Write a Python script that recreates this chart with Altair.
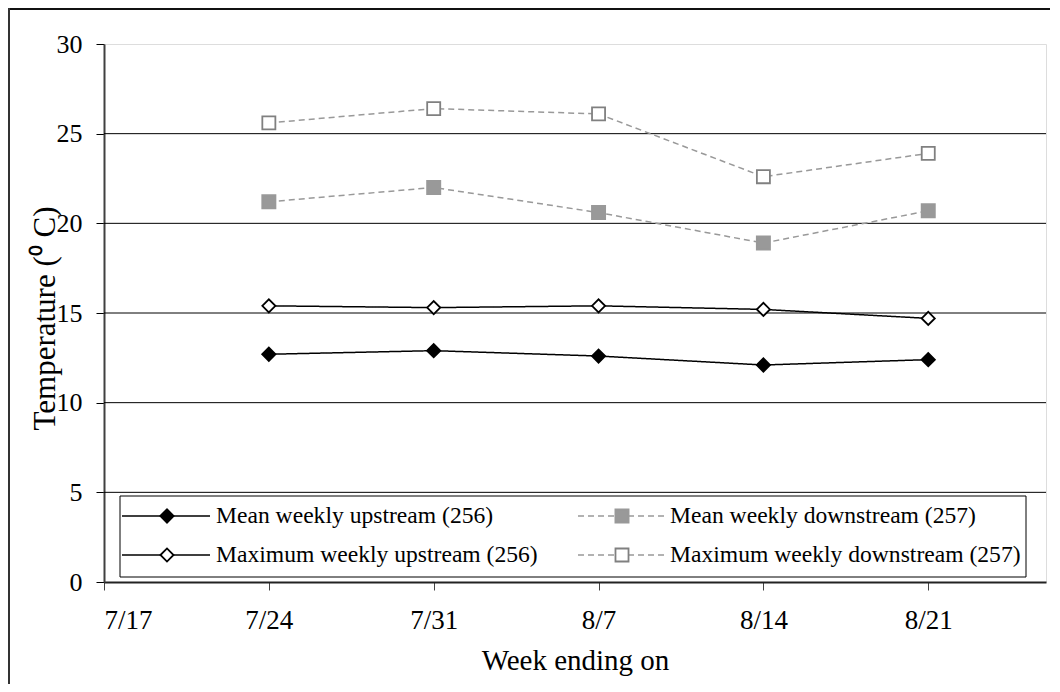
import altair as alt
import pandas as pd

# ---------------- data ----------------
week_labels = ["7/24", "7/31", "8/7", "8/14", "8/21"]
tick_labels = ["7/17", "7/24", "7/31", "8/7", "8/14", "8/21"]
domain_end = "8/26"
year = 2004

series_names = [
    "Mean weekly upstream (256)",
    "Mean weekly downstream (257)",
    "Maximum weekly upstream (256)",
    "Maximum weekly downstream (257)",
]
mean_up = [12.7, 12.9, 12.6, 12.1, 12.4]
mean_down = [21.2, 22.0, 20.6, 18.9, 20.7]
max_up = [15.4, 15.3, 15.4, 15.2, 14.7]
max_down = [25.6, 26.4, 26.1, 22.6, 23.9]

y_ticks = [0, 5, 10, 15, 20, 25, 30]
grid_values = [5, 10, 15, 20, 25]


def to_dt(lbl):
    m, d = lbl.split("/")
    return alt.DateTime(year=year, month=int(m), date=int(d))


def to_iso(lbl):
    m, d = lbl.split("/")
    return f"{year}-{int(m):02d}-{int(d):02d}T00:00:00"


rows = []
for name, vals in zip(series_names, [mean_up, mean_down, max_up, max_down]):
    for lbl, v in zip(week_labels, vals):
        rows.append({"date": to_iso(lbl), "temp": v, "series": name})
df = pd.DataFrame(rows)

FONT = "Liberation Serif"

line_color = alt.Scale(domain=series_names, range=["#000000", "#999999", "#000000", "#999999"])
dash_scale = alt.Scale(domain=series_names, range=[[1, 0], [6, 4], [1, 0], [6, 4]])
shape_scale = alt.Scale(domain=series_names, range=["diamond", "square", "diamond", "square"])
fill_scale = alt.Scale(domain=series_names, range=["#000000", "#999999", "#ffffff", "#ffffff"])
stroke_scale = alt.Scale(domain=series_names, range=["#000000", "#999999", "#000000", "#808080"])
size_scale = alt.Scale(domain=series_names, range=[175, 170, 210, 220])

x_enc = alt.X(
    "date:T",
    scale=alt.Scale(domain=[to_dt(tick_labels[0]), to_dt(domain_end)]),
    axis=alt.Axis(
        values=[to_dt(t) for t in tick_labels],
        format="%-m/%-d",
        title="Week ending on",
        grid=False,
        domainColor="#222222",
        domainWidth=2,
        tickColor="#444444",
        tickSize=8,
        labelFont=FONT,
        labelFontSize=27,
        labelColor="black",
        labelPadding=17,
        titleFont=FONT,
        titleFontSize=29,
        titleFontWeight="normal",
        titleColor="black",
        titlePadding=13,
    ),
)
y_enc = alt.Y(
    "temp:Q",
    scale=alt.Scale(domain=[0, 30], nice=False),
    axis=alt.Axis(
        values=y_ticks,
        title="Temperature (\u2070 C)",
        grid=False,
        domainColor="#404040",
        domainWidth=2,
        tickColor="#000000",
        tickSize=8,
        labelFont=FONT,
        labelFontSize=26,
        labelColor="black",
        labelPadding=14,
        titleFont=FONT,
        titleFontSize=31,
        titleFontWeight="normal",
        titleColor="black",
        titleX=-59,
        titleY=274,
        titleBaseline="middle",
        titleAngle=-90,
    ),
)

grid = alt.Chart(pd.DataFrame({"v": grid_values})).mark_rule(color="black", strokeWidth=1).encode(
    y=alt.Y("v:Q")
)

lines = alt.Chart(df).mark_line(strokeWidth=1.5).encode(
    x=x_enc,
    y=y_enc,
    color=alt.Color("series:N", scale=line_color, legend=None),
    strokeDash=alt.StrokeDash("series:N", scale=dash_scale, legend=None),
    detail="series:N",
)

points = alt.Chart(df).mark_point(filled=True, opacity=1, strokeWidth=1.8).encode(
    x="date:T",
    y="temp:Q",
    shape=alt.Shape("series:N", scale=shape_scale, legend=None),
    fill=alt.Fill("series:N", scale=fill_scale, legend=None),
    stroke=alt.Stroke("series:N", scale=stroke_scale, legend=None),
    size=alt.Size("series:N", scale=size_scale, legend=None),
)

# ---------------- manual legend ----------------
one = pd.DataFrame({"a": [0]})
legend_box = alt.Chart(one).mark_rect(fill="white", stroke="black", strokeWidth=1).encode(
    x=alt.value(16), x2=alt.value(922), y=alt.value(452), y2=alt.value(533)
)

leg_df = pd.DataFrame({"series": series_names, "i": list(range(len(series_names)))})
leg_base = alt.Chart(leg_df).transform_calculate(
    col="datum.i % 2", row="floor(datum.i / 2)"
).transform_calculate(
    lx0="datum.col == 0 ? 18 : 474",
    lx1="datum.col == 0 ? 106 : 563",
    mx="datum.col == 0 ? 63 : 518",
    tx="datum.col == 0 ? 112 : 566",
    ly="datum.row == 0 ? 472 : 511",
)

leg_lines = leg_base.mark_rule(strokeWidth=1.5).encode(
    x=alt.X("lx0:Q", scale=None, axis=None),
    x2="lx1:Q",
    y=alt.Y("ly:Q", scale=None, axis=None),
    color=alt.Color("series:N", scale=line_color, legend=None),
    strokeDash=alt.StrokeDash("series:N", scale=dash_scale, legend=None),
)
leg_points = leg_base.mark_point(filled=True, opacity=1, strokeWidth=1.8).encode(
    x=alt.X("mx:Q", scale=None, axis=None),
    y=alt.Y("ly:Q", scale=None, axis=None),
    shape=alt.Shape("series:N", scale=shape_scale, legend=None),
    fill=alt.Fill("series:N", scale=fill_scale, legend=None),
    stroke=alt.Stroke("series:N", scale=stroke_scale, legend=None),
    size=alt.Size("series:N", scale=size_scale, legend=None),
)
leg_text = leg_base.mark_text(align="left", baseline="middle", font=FONT, fontSize=23.6, color="black").encode(
    x=alt.X("tx:Q", scale=None, axis=None),
    y=alt.Y("ly:Q", scale=None, axis=None),
    text="series:N",
)

# ---------------- outer frame ----------------
frame_top = alt.Chart(one).mark_rule(color="#111111", strokeWidth=2).encode(
    x=alt.value(-96), x2=alt.value(946), y=alt.value(-35)
)
frame_left = alt.Chart(one).mark_rule(color="#333333", strokeWidth=2).encode(
    x=alt.value(-95), y=alt.value(-36), y2=alt.value(640)
)

chart = alt.layer(
    grid, lines, points, legend_box, leg_lines, leg_points, leg_text, frame_top, frame_left
).properties(
    width=942,
    height=538,
    autosize=alt.AutoSizeParams(type="none"),
    padding={"left": 96, "top": 36, "right": 6, "bottom": 102},
).configure_view(
    stroke="#808080", strokeWidth=2
).configure(background="white")

chart.save("out.html", embed_options={"renderer": "svg", "actions": False})
